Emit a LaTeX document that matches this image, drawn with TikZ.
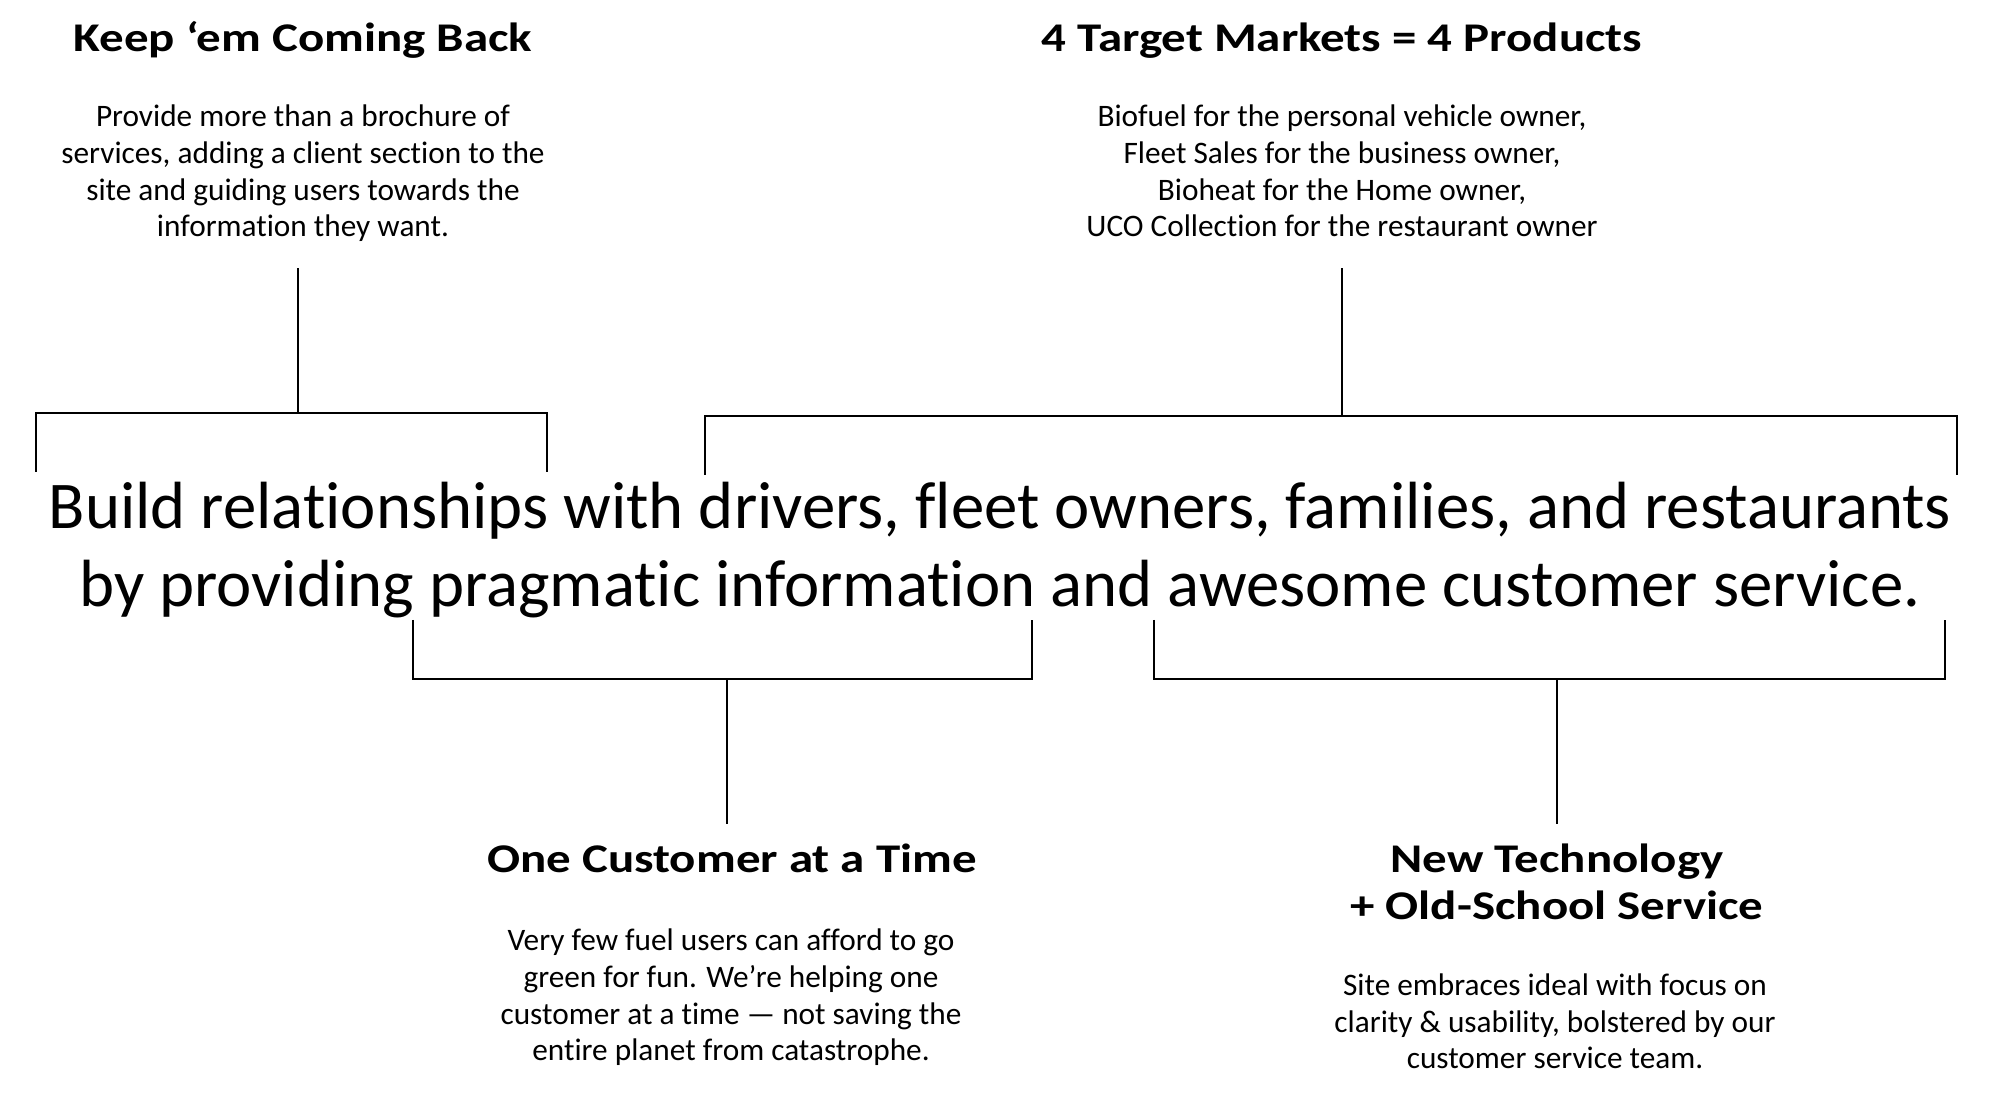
\documentclass[tikz,border=0pt]{standalone}
\usepackage{fontspec}
\setmainfont{Carlito}[Ligatures=NoCommon]
\newfontfamily\headfont{Carlito}[Ligatures=NoCommon,FakeStretch=1.2]
\usetikzlibrary{positioning}

\begin{document}
\begin{tikzpicture}[semithick]

\tikzstyle{every node}=[inner sep=0pt,anchor=base,align=center]
\tikzstyle{title}=[font=\headfont\bfseries\fontsize{11.6}{13.4}\selectfont]
\tikzstyle{blurb}=[font=\fontsize{8.9}{10.5}\selectfont]
\tikzstyle{mission}=[font=\fontsize{19}{22.3}\selectfont]

\useasboundingbox (0,0) rectangle (20,-10.98);

\node[mission] (goal) at (10,-6.07)
  {Build relationships with drivers, fleet owners, families, and restaurants\\
   by providing pragmatic information and awesome customer service.};

\node[title] (keephead) at (3.03,-0.52) {Keep ‘em Coming Back};
\node[blurb] (keepbody) at (3.03,-2.37)
  {Provide more than a brochure of\\services, adding a client section to the\\
   site and guiding users towards the\\information they want.};

\node[title] (markethead) at (13.42,-0.52) {4 Target Markets = 4 Products};
\node[blurb] (marketbody) at (13.42,-2.37)
  {Biofuel for the personal vehicle owner,\\Fleet Sales for the business owner,\\
   Bioheat for the Home owner,\\UCO Collection for the restaurant owner};

\node[title] (onehead) at (7.32,-8.73) {One Customer at a Time};
\node[blurb] (onebody) at (7.31,-10.61)
  {Very few fuel users can afford to go\\green for fun. We’re helping one\\
   customer at a time — not saving the\\entire planet from catastrophe.};

\node[title] (newhead) at (15.57,-9.20) {New Technology\\+ Old-School Service};
\node[blurb] (newbody) at (15.55,-10.69)
  {Site embraces ideal with focus on\\clarity \& usability, bolstered by our\\
   customer service team.};

\coordinate (keepL) at (0.36,-4.72);
\coordinate (keepR) at (5.47,-4.72);
\coordinate (keepJ) at (2.98,-4.13);
\coordinate (keepT) at (2.98,-2.68);

\coordinate (marketL) at (7.05,-4.75);
\coordinate (marketR) at (19.57,-4.75);
\coordinate (marketJ) at (13.42,-4.16);
\coordinate (marketT) at (13.42,-2.68);

\coordinate (oneL) at (4.13,-6.20);
\coordinate (oneR) at (10.32,-6.20);
\coordinate (oneJ) at (7.27,-6.79);
\coordinate (oneB) at (7.27,-8.24);

\coordinate (newL) at (11.54,-6.20);
\coordinate (newR) at (19.45,-6.20);
\coordinate (newJ) at (15.57,-6.79);
\coordinate (newB) at (15.57,-8.24);

\draw (keepL) |- (keepJ) -| (keepR);
\draw (keepJ) -- (keepT);
\draw (marketL) |- (marketJ) -| (marketR);
\draw (marketJ) -- (marketT);
\draw (oneL) |- (oneJ) -| (oneR);
\draw (oneJ) -- (oneB);
\draw (newL) |- (newJ) -| (newR);
\draw (newJ) -- (newB);
\end{tikzpicture}
\end{document}
